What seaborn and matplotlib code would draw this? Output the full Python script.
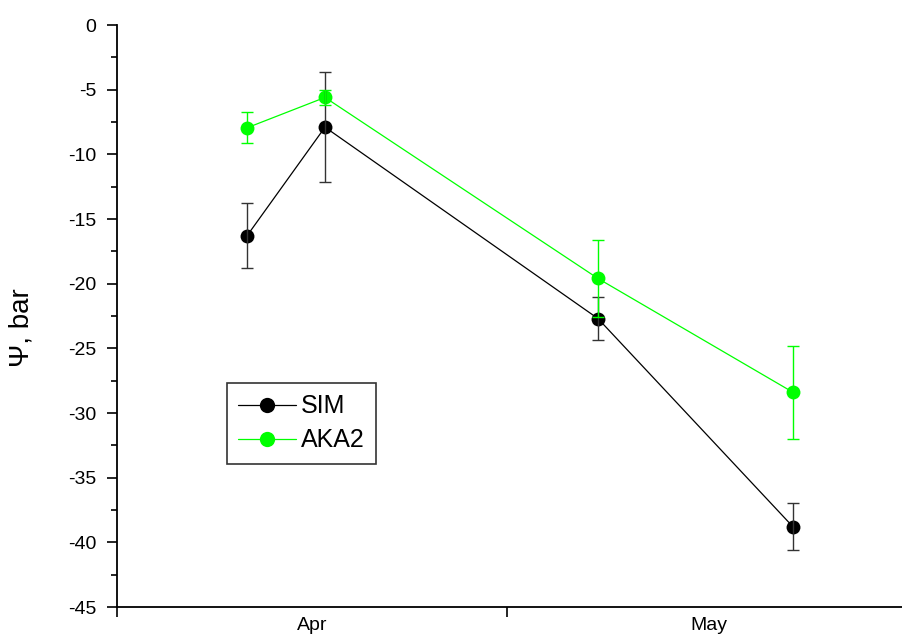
import matplotlib
matplotlib.use("Agg")
import matplotlib.pyplot as plt
from matplotlib.ticker import MultipleLocator
import seaborn as sns
import pandas as pd

# ---- data ----
dates = ["2008-04-11", "2008-04-17", "2008-05-08", "2008-05-23"]
sim_vals = [-16.3, -7.9, -22.7, -38.8]
sim_err = [2.5, 4.25, 1.65, 1.83]
aka_vals = [-7.95, -5.6, -19.6, -28.4]
aka_err = [1.2, 0.55, 2.95, 3.6]
series_names = ["SIM", "AKA2"]
colors = {"SIM": "#000000", "AKA2": "#00ff00"}
err_colors = {"SIM": "#333333", "AKA2": "#00ff00"}
month_ticks = ["2008-04-01", "2008-05-01", "2008-06-01"]
month_labels = ["Apr", "May"]
month_label_pos = ["2008-04-16T00:00", "2008-05-16T12:00"]

df = pd.DataFrame({
    "date": pd.to_datetime(dates * 2),
    "psi": sim_vals + aka_vals,
    "err": sim_err + aka_err,
    "series": ["SIM"] * len(dates) + ["AKA2"] * len(dates),
})

sns.set_style("ticks")
plt.rcParams["font.family"] = ["Liberation Sans", "DejaVu Sans"]
plt.rcParams["text.color"] = "black"
plt.rcParams["axes.labelcolor"] = "black"
plt.rcParams["xtick.color"] = "black"
plt.rcParams["ytick.color"] = "black"

fig = plt.figure(figsize=(9.02, 6.37), dpi=100)
ax = fig.add_axes([117 / 902, 30 / 637, 793 / 902, 582 / 637])

sns.lineplot(data=df, x="date", y="psi", hue="series", hue_order=series_names,
             palette=colors, marker="o", markersize=10, markeredgewidth=0,
             linewidth=0.9, estimator=None, ax=ax, zorder=2)

for name in series_names:
    sub = df[df["series"] == name]
    ax.errorbar(sub["date"], sub["psi"], yerr=sub["err"], fmt="none",
                ecolor=err_colors[name], elinewidth=1.0, capsize=4.5,
                capthick=1.0, zorder=3)

ax.set_ylim(-45, 0)
ax.set_xlim(pd.Timestamp(month_ticks[0]), pd.Timestamp(month_ticks[-1]))
ax.yaxis.set_minor_locator(MultipleLocator(2.5))
ax.set_yticks(range(-45, 1, 5))
ax.set_yticklabels([str(v) for v in range(-45, 1, 5)])

ax.set_xticks(pd.to_datetime(month_ticks))
ax.set_xticklabels([""] * len(month_ticks))
ax.set_xticks(pd.to_datetime(month_label_pos, format="ISO8601"), minor=True)
ax.set_xticklabels(month_labels, minor=True)

ax.tick_params(axis="both", which="both", colors="black", labelcolor="black")
ax.tick_params(axis="both", which="major", direction="out", length=7,
               width=1.2, labelsize=14)
ax.tick_params(axis="y", which="major", pad=8)
ax.tick_params(axis="y", which="minor", direction="out", length=4, width=1.2)
ax.tick_params(axis="x", which="minor", length=0, pad=7, labelsize=14)

for s in ["top", "right"]:
    ax.spines[s].set_visible(False)
for s in ["left", "bottom"]:
    ax.spines[s].set_linewidth(1.3)
    ax.spines[s].set_color("black")

ax.set_xlabel("")
ax.set_ylabel("Ψ, bar", fontsize=20, va="center", color="black")
ax.yaxis.set_label_coords(-95 / 793, 279 / 582)

handles, labels = ax.get_legend_handles_labels()
leg = ax.legend(handles, labels, loc="upper left",
                bbox_to_anchor=(110 / 793, 224 / 582), borderaxespad=0,
                frameon=True, fancybox=False, edgecolor="black",
                fontsize=18, labelcolor="black",
                handlelength=2.3, handletextpad=0.2,
                labelspacing=0.4, borderpad=0.45)
leg.get_frame().set_linewidth(1.2)
for h in leg.legend_handles:
    h.set_markersize(11)

fig.savefig("out.png", dpi=100)
